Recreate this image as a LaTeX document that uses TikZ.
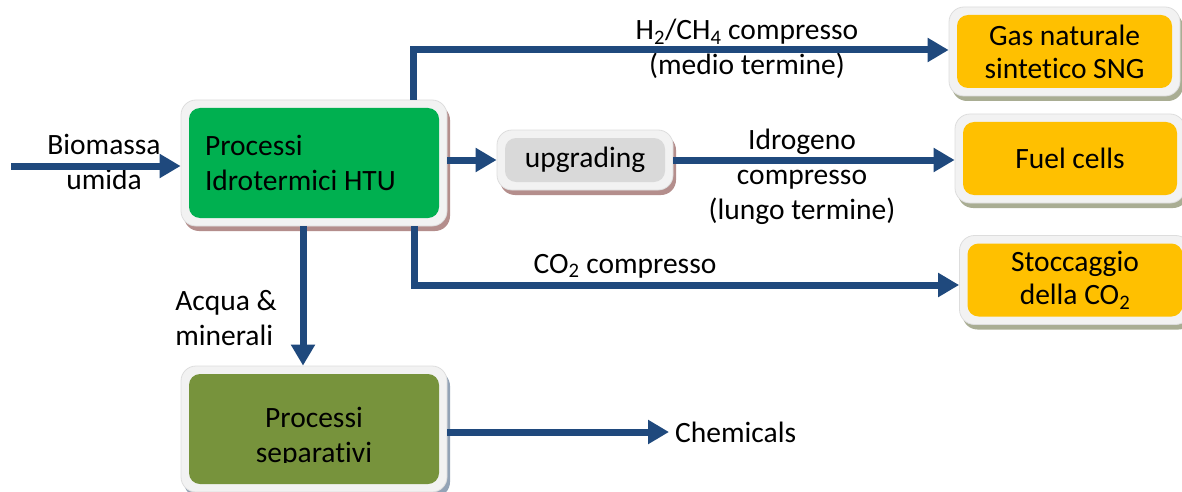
\documentclass[tikz,border=0pt]{standalone}
\usepackage{fontspec}
\setmainfont{Carlito}[Ligatures=NoCommon]
\usetikzlibrary{arrows.meta,shadows}
\definecolor{arrblue}{HTML}{1F497D}
\definecolor{htugreen}{HTML}{00B050}
\definecolor{sepolive}{HTML}{77933C}
\definecolor{orng}{HTML}{FFC000}
\definecolor{upggray}{HTML}{D9D9D9}
\definecolor{framefill}{HTML}{F2F2F2}
\definecolor{frameline}{HTML}{DDDDDD}
\definecolor{shbrown}{HTML}{B48E8C}
\definecolor{shgreen}{HTML}{A9AD93}
\definecolor{shblue}{HTML}{93A3B6}
\newcommand\lblfnt{\fontsize{29.5}{35}\selectfont}
\newcommand\boxfnt{\fontsize{29.5}{33}\selectfont}
\tikzset{
  frm/.style={draw=frameline, fill=framefill, line width=0.8pt, rounded corners=15pt, inner sep=0pt,
    drop shadow={shadow xshift=3pt, shadow yshift=-5pt, fill=#1, opacity=1}},
  inr/.style={rounded corners=11pt, inner sep=0pt, font=\boxfnt, align=center, text=black},
  lbl/.style={font=\lblfnt, align=center, inner sep=2pt, text=black},
  arr/.style={draw=arrblue, line width=7pt, -{Triangle[length=21pt,width=23pt]}}
}
\begin{document}
\begin{tikzpicture}[x=1pt,y=-1pt]
\clip (0,0) rectangle (1182,492);
\fill[white] (0,0) rectangle (1182,492);
% HTU
\node[frm=shbrown, minimum width=266pt, minimum height=126pt] (htuF) at (314,163) {};
\node[inr, fill=htugreen, minimum width=250pt, minimum height=110pt, text width=218pt, inner xsep=16pt, align=flush left, font=\lblfnt] (htu) at (314,163) {Processi\\Idrotermici HTU};
% upgrading
\node[frm=shbrown, minimum width=176pt, minimum height=60pt] (upgF) at (585,160) {};
\node[inr, fill=upggray, minimum width=160pt, minimum height=44pt] (upg) at (585,160) {upgrading};
% SNG
\node[frm=shgreen, minimum width=231pt, minimum height=89pt] (sngF) at (1064.5,51.5) {};
\node[inr, fill=orng, minimum width=215pt, minimum height=73pt] (sng) at (1064.5,51.5) {Gas naturale\\sintetico SNG};
% Fuel cells
\node[frm=shgreen, minimum width=230pt, minimum height=89pt] (fuelF) at (1070,158.5) {};
\node[inr, fill=orng, minimum width=214pt, minimum height=73pt] (fuel) at (1070,158.5) {Fuel cells};
% Stoccaggio
\node[frm=shgreen, minimum width=231pt, minimum height=89pt] (stoF) at (1075,280) {};
\node[inr, fill=orng, minimum width=215pt, minimum height=73pt] (sto) at (1075,280) {Stoccaggio\\della CO\textsubscript{2}};
% Separativi
\node[frm=shblue, minimum width=266pt, minimum height=126pt] (sepF) at (314,429) {};
\node[inr, fill=sepolive, minimum width=250pt, minimum height=110pt] (sep) at (314,429) {};
\begin{scope}
\clip (189,374) rectangle (439,462);
\node[lbl] (septext) at (314,437) {Processi\\separativi};
\end{scope}
% labels
\node[lbl] (bio) at (104,162) {Biomassa\\umida};
\node[lbl] (h2) at (747,49) {H\textsubscript{2}/CH\textsubscript{4} compresso\\(medio termine)};
\node[lbl] (idro) at (802,177) {Idrogeno\\compresso\\(lungo termine)};
\node[lbl] (co2) at (625,266) {CO\textsubscript{2} compresso};
\node[lbl, align=left] (acq) at (226,318) {Acqua \&\\minerali};
\node[lbl, anchor=west] (chem) at (673,432) {Chemicals};
% arrows
\coordinate (inS) at (11,166);
\draw[arr] (inS) -- (htuF.west |- inS);
\draw[arr] ([xshift=99pt]htuF.north) |- ([yshift=1.5pt]sngF.west);
\draw[arr] (htuF.east |- upg) -- (upgF.west);
\draw[arr] (upgF.east) -- (fuelF.west |- upgF.east);
\draw[arr] ([xshift=100pt]htuF.south) |- ([yshift=-5pt]stoF.west);
\draw[arr] ([xshift=-11pt]htuF.south) -- ([xshift=-11pt]sepF.north);
\draw[arr] (sepF.east |- chem) -- ([xshift=-4pt]chem.west);
\end{tikzpicture}
\end{document}
